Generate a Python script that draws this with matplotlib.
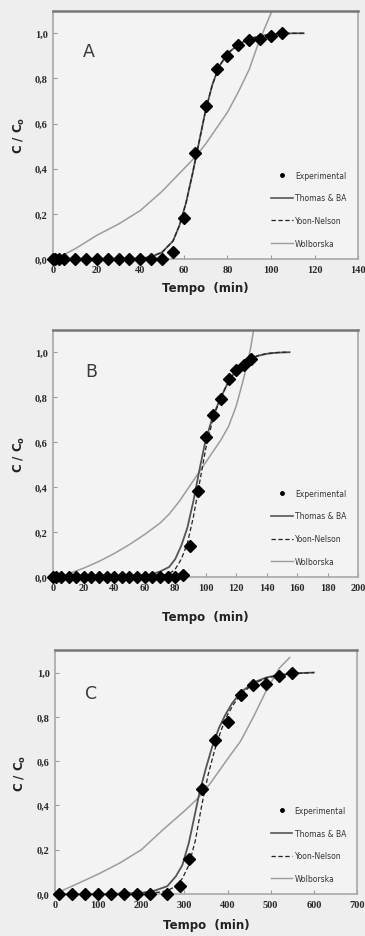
import matplotlib
matplotlib.use("Agg")
import matplotlib.pyplot as plt
from matplotlib.lines import Line2D
from matplotlib.ticker import FuncFormatter

# ---- painel A ----
expA_t = [0, 1, 2.5, 5, 10, 15, 20, 25, 30, 35, 40, 45, 50, 55, 60, 65, 70, 75, 80, 85, 90, 95, 100, 105]
expA_c = [0, 0, 0, 0, 0, 0, 0, 0, 0, 0, 0, 0, 0, 0.03, 0.18, 0.47, 0.68, 0.84, 0.90, 0.95, 0.97, 0.975, 0.99, 1.0]
thomasA_t = [0, 10, 20, 30, 40, 45, 50, 55, 58, 61, 64, 67, 70, 73, 76, 80, 85, 90, 95, 100, 105, 110, 115]
thomasA_c = [0, 0, 0, 0, 0.002, 0.01, 0.03, 0.08, 0.15, 0.25, 0.38, 0.52, 0.66, 0.77, 0.85, 0.91, 0.95, 0.975, 0.988, 0.995, 0.998, 1.0, 1.0]
yoonA_t = thomasA_t
yoonA_c = thomasA_c
wolbA_t = [0, 5, 10, 20, 30, 40, 50, 60, 65, 70, 75, 80, 85, 90, 94, 97, 100.5]
wolbA_c = [0, 0.02, 0.045, 0.105, 0.155, 0.215, 0.30, 0.40, 0.45, 0.51, 0.58, 0.65, 0.74, 0.84, 0.95, 1.02, 1.1]

# ---- painel B ----
expB_t = [0, 2, 5, 10, 15, 20, 25, 30, 35, 40, 45, 50, 55, 60, 65, 70, 75, 80, 85, 90, 95, 100, 105, 110, 115, 120, 125, 130]
expB_c = [0] * 18 + [0.01, 0.14, 0.385, 0.625, 0.72, 0.79, 0.88, 0.92, 0.945, 0.97]
thomasB_t = [0, 20, 40, 55, 62, 70, 76, 80, 84, 88, 92, 96, 100, 105, 110, 115, 120, 125, 130, 135, 140, 145, 150, 155]
thomasB_c = [0, 0, 0, 0.002, 0.006, 0.025, 0.045, 0.08, 0.14, 0.22, 0.34, 0.48, 0.61, 0.72, 0.80, 0.87, 0.92, 0.955, 0.973, 0.985, 0.993, 0.997, 0.999, 1.0]
yoonB_t = [0, 40, 60, 70, 76, 80, 84, 88, 92, 96, 100, 105, 110, 115, 120, 125, 130, 135, 140, 145, 150, 155]
yoonB_c = [0, 0, 0, 0.005, 0.015, 0.035, 0.08, 0.15, 0.27, 0.42, 0.57, 0.71, 0.80, 0.87, 0.92, 0.955, 0.975, 0.987, 0.994, 0.998, 1.0, 1.0]
wolbB_t = [0, 5, 10, 20, 30, 40, 50, 60, 70, 76, 83, 90, 95, 100, 105, 110, 115, 120, 124, 127, 129.5, 131.5]
wolbB_c = [0, 0, 0.015, 0.04, 0.07, 0.105, 0.145, 0.19, 0.24, 0.28, 0.34, 0.41, 0.46, 0.51, 0.56, 0.61, 0.67, 0.76, 0.86, 0.94, 1.02, 1.1]

# ---- painel C ----
expC_t = [10, 40, 70, 100, 130, 160, 190, 220, 260, 290, 310, 340, 370, 400, 430, 460, 490, 520, 550]
expC_c = [0] * 9 + [0.035, 0.16, 0.475, 0.695, 0.775, 0.90, 0.945, 0.95, 0.985, 1.0]
thomasC_t = [10, 100, 200, 230, 260, 280, 295, 310, 322, 335, 350, 365, 380, 395, 410, 430, 460, 490, 520, 560, 600]
thomasC_c = [0, 0, 0.005, 0.015, 0.035, 0.08, 0.13, 0.23, 0.34, 0.46, 0.57, 0.67, 0.75, 0.81, 0.86, 0.91, 0.955, 0.978, 0.99, 0.997, 1.0]
yoonC_t = [10, 100, 200, 240, 260, 280, 295, 310, 325, 340, 355, 370, 385, 400, 415, 430, 460, 490, 520, 560, 600]
yoonC_c = [0, 0, 0.003, 0.008, 0.015, 0.035, 0.07, 0.13, 0.24, 0.40, 0.54, 0.65, 0.74, 0.81, 0.86, 0.90, 0.95, 0.975, 0.988, 0.996, 1.0]
wolbC_t = [10, 50, 100, 150, 200, 250, 300, 330, 360, 400, 430, 460, 490, 520, 545]
wolbC_c = [0.01, 0.045, 0.09, 0.14, 0.20, 0.29, 0.375, 0.43, 0.50, 0.61, 0.69, 0.80, 0.92, 1.02, 1.07]

panels = [
    ("A", expA_t, expA_c, thomasA_t, thomasA_c, yoonA_t, yoonA_c, wolbA_t, wolbA_c, 140, 20),
    ("B", expB_t, expB_c, thomasB_t, thomasB_c, yoonB_t, yoonB_c, wolbB_t, wolbB_c, 200, 20),
    ("C", expC_t, expC_c, thomasC_t, thomasC_c, yoonC_t, yoonC_c, wolbC_t, wolbC_c, 700, 100),
]
legend_labels = ["Experimental", "Thomas & BA", "Yoon-Nelson", "Wolborska"]

# posicoes dos eixos [left, bottom, width, height] em fracao da figura
positions = [
    [0.146, 0.7225, 0.835, 0.265],
    [0.146, 0.383, 0.835, 0.264],
    [0.151, 0.0448, 0.827, 0.260],
]
letter_pos = [(0.096, 0.837), (0.104, 0.834), (0.0995, 0.826)]
xlabelpads = [5, 13, 7]

narrow = ['Liberation Sans Narrow', 'DejaVu Sans']
tick_font = ['Liberation Serif', 'DejaVu Serif']

c_thomas = '#555555'
c_wolb = '#9c9c9c'

fig = plt.figure(figsize=(3.65, 9.37), dpi=100)
fig.patch.set_facecolor('#eeeeee')

comma = FuncFormatter(lambda v, p: f"{v:.1f}".replace('.', ','))

for i, (letter, et, ec, tt, tc, yt, yc, wt, wc, xmax, xstep) in enumerate(panels):
    ax = fig.add_axes(positions[i])
    ax.set_facecolor('#f3f3f3')

    ax.plot(wt, wc, color=c_wolb, lw=1.1, solid_capstyle='butt')
    ax.plot(tt, tc, color=c_thomas, lw=1.3)
    ax.plot(yt, yc, color='#222222', lw=0.9, ls=(0, (3.5, 2)))
    ax.plot(et, ec, ls='none', marker='D', ms=5.8, color='black', clip_on=False, zorder=5)

    ax.set_xlim(0, xmax)
    ax.set_ylim(0, 1.1)
    ax.set_xticks(range(0, xmax + 1, xstep))
    ax.set_yticks([0, 0.2, 0.4, 0.6, 0.8, 1.0])
    ax.yaxis.set_major_formatter(comma)
    ax.tick_params(direction='in', length=3, width=0.8, color='#999999',
                   labelsize=7.5, labelcolor='#2a2a2a', pad=4)
    for lab in ax.get_xticklabels() + ax.get_yticklabels():
        lab.set_family(tick_font)
        lab.set_fontweight('bold')

    for side in ['left', 'right', 'bottom']:
        ax.spines[side].set_color('#a8a8a8')
        ax.spines[side].set_linewidth(1.2)
    ax.spines['top'].set_color('#777777')
    ax.spines['top'].set_linewidth(1.8)

    ax.set_xlabel('Tempo  (min)', family=narrow, fontweight='bold', fontsize=8.5,
                  color='#222222', labelpad=xlabelpads[i])
    ax.set_ylabel(r'C / C$_\mathregular{o}$', fontweight='bold', fontsize=8.5,
                  color='#222222', labelpad=6)

    ax.text(letter_pos[i][0], letter_pos[i][1], letter, transform=ax.transAxes,
            ha='left', va='center', fontsize=12.5, color='#3a3a3a')

    handles = [
        Line2D([], [], ls='none', marker='o', ms=2.5, color='black'),
        Line2D([], [], color=c_thomas, lw=1.2),
        Line2D([], [], color='#222222', lw=0.9, ls=(0, (3.5, 2))),
        Line2D([], [], color=c_wolb, lw=1.0),
    ]
    ax.legend(handles, legend_labels, loc='lower left', bbox_to_anchor=(0.715, 0.045),
              frameon=False, prop={'family': narrow, 'size': 5.5},
              handlelength=2.8, handletextpad=0.3, labelspacing=1.8,
              borderpad=0, borderaxespad=0, labelcolor='#333333')

fig.savefig('out.png', dpi=100, facecolor=fig.get_facecolor())
